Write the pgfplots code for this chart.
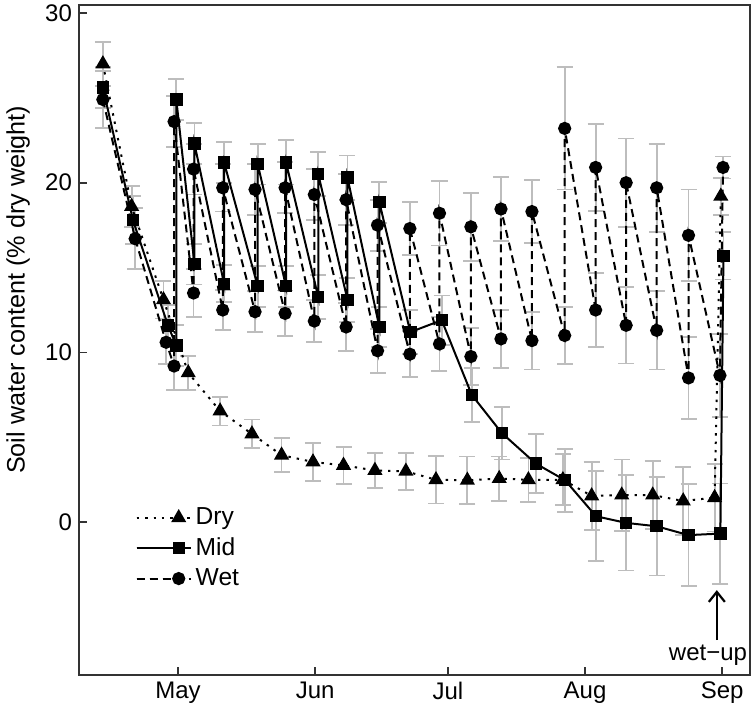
\documentclass[border=0pt]{standalone}
\usepackage{fontspec}
\setmainfont{Liberation Sans}
\usepackage{pgfplots}
\pgfplotsset{compat=1.18}
\usepackage{pgfplotstable}
\usetikzlibrary{arrows.meta}

\pgfplotstableread{
x y e
-17.0 27.0 1.3
-10.5 18.6 1.2
-3.3 13.1 1.1
2.3 8.8 1.0
9.5 6.55 0.85
16.7 5.2 0.85
23.4 3.95 1.0
30.5 3.55 1.1
37.4 3.35 1.1
44.5 3.05 1.05
51.5 3.0 1.1
58.3 2.5 1.4
65.4 2.47 1.4
72.6 2.57 1.3
79.2 2.5 1.3
87.0 2.5 1.5
93.5 1.55 2.0
100.3 1.6 2.1
107.3 1.6 2.0
114.2 1.25 2.0
121.3 1.45 2.0
122.7 19.2 1.1
}\dry

\pgfplotstableread{
x y e
-17.0 25.6 1.2
-10.2 17.8 1.4
-2.3 11.6 1.2
-0.4 10.4 1.2
-0.4 24.9 1.2
3.7 15.2 1.2
3.7 22.3 1.2
10.4 14.05 1.1
10.4 21.2 1.2
18.0 13.9 1.2
18.0 21.1 1.2
24.4 13.9 1.2
24.4 21.2 1.3
31.7 13.25 1.3
31.7 20.5 1.3
38.3 13.1 1.3
38.3 20.3 1.3
45.5 11.5 1.2
45.5 18.85 1.2
52.5 11.2 1.3
59.6 11.9 1.45
66.4 7.5 1.6
73.2 5.25 1.55
80.9 3.45 1.75
87.5 2.47 1.85
94.5 0.35 2.65
101.3 -0.04 2.8
108.2 -0.24 2.9
115.4 -0.76 3.0
122.6 -0.67 2.95
123.3 15.7 1.4
}\mid

\pgfplotstableread{
x y e
-17.0 24.9 1.7
-9.7 16.7 1.8
-2.7 10.6 1.3
-0.9 9.2 1.4
-0.9 23.6 1.5
3.5 13.5 1.4
3.5 20.8 1.5
10.1 12.5 1.2
10.1 19.7 1.4
17.4 12.4 1.2
17.4 19.6 1.5
24.2 12.3 1.35
24.2 19.7 1.5
30.8 11.85 1.25
30.8 19.3 1.5
38.0 11.5 1.4
38.0 19.0 1.5
45.1 10.1 1.3
45.1 17.5 1.5
52.4 9.9 1.35
52.4 17.3 1.55
59.1 10.5 1.6
59.1 18.2 1.9
66.2 9.76 1.7
66.2 17.4 2.0
73.0 10.8 1.7
73.0 18.45 1.9
80.0 10.7 1.7
80.0 18.3 1.85
87.4 11.0 1.7
87.4 23.2 3.6
94.4 12.5 2.2
94.4 20.9 2.55
101.3 11.6 2.25
101.3 20.0 2.6
108.2 11.3 2.3
108.2 19.7 2.6
115.4 8.5 2.4
115.4 16.9 2.7
122.5 8.65 2.45
123.2 20.9 0.65
}\wet

\pgfplotsset{
  ebar/.style={forget plot, draw=none, mark=none,
    error bars/.cd, y dir=both, y explicit,
    error bar style={draw=black!26, line width=0.9pt, solid},
    error mark options={rotate=90, mark size=4pt, draw=black!26, line width=0.9pt, solid}},
}

\begin{document}
\begin{tikzpicture}
\begin{axis}[
  scale only axis, width=335.5pt, height=335pt,
  xmin=-22.4, xmax=129.3, ymin=-9.0, ymax=30.47,
  clip=false,
  axis line style={black!80, line width=1.2pt},
  tick style={black!80, line width=0.8pt},
  major tick length=4pt,
  tick align=inside,
  xtick pos=lower, ytick pos=left,
  xtick={0,31,61,92,123}, xticklabels={May,Jun,Jul,Aug,Sep},
  ytick={0,10,20,30},
  /pgf/number format/assume math mode=true,
  ticklabel style={font=\fontsize{12}{14}\selectfont},
  ylabel={Soil water content (\% dry weight)},
  every axis y label/.style={at={([xshift=-30.5pt]rel axis cs:0,0.575)}, rotate=90, anchor=center,
    font=\fontsize{12.6}{14}\selectfont},
  legend style={draw=none, fill=none, at={(rel axis cs:0.075,0.262)}, anchor=north west,
    font=\fontsize{12.3}{14}\selectfont, row sep=1pt},
  legend cell align=left,
  legend image code/.code={\path (0pt,0pt) -- (27pt,0pt);
    \draw[mark repeat=2, mark phase=2, #1] plot coordinates {(0pt,0pt) (21pt,0pt)};},
]
\coordinate (BL) at (rel axis cs:0,0);
\coordinate (TR) at (rel axis cs:1,1);
\addplot[ebar] table[x=x, y=y, y error=e] {\dry};
\addplot[ebar] table[x=x, y=y, y error=e] {\mid};
\addplot[ebar] table[x=x, y=y, y error=e] {\wet};

\addplot[black, line width=1pt, dash pattern=on 1.2pt off 3pt, mark=triangle*, mark size=3.4pt, mark options={solid}] table[x=x, y=y] {\dry};
\addlegendentry{Dry}
\addplot[black, line width=1pt, solid, mark=square*, mark size=2.6pt] table[x=x, y=y] {\mid};
\addlegendentry{Mid}
\addplot[black, line width=1pt, dash pattern=on 4pt off 2.5pt, mark=*, mark size=2.8pt, mark options={solid}] table[x=x, y=y] {\wet};
\addlegendentry{Wet}

\draw[-{Straight Barb[length=5pt,width=8pt]}, line width=1.1pt] (axis cs:121.8,-6.95) -- (axis cs:121.8,-4.0);
\node[font=\fontsize{12}{14}\selectfont] at (axis cs:119.8,-7.85) {wet−up};
\end{axis}
\pgfresetboundingbox
\path[use as bounding box] ([shift={(-39.5pt,-16.5pt)}]BL) rectangle ([shift={(1pt,2.5pt)}]TR);
\end{tikzpicture}
\end{document}
